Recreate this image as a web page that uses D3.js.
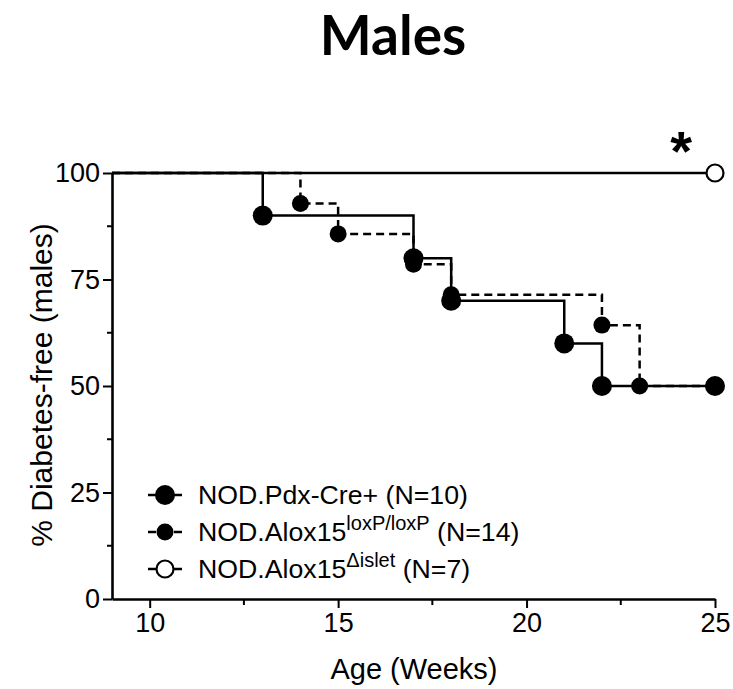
<!DOCTYPE html>
<html>
<head>
<meta charset="utf-8">
<script src="https://cdn.jsdelivr.net/npm/d3@7"></script>
<style>
  body { margin: 0; background: #fff; }
</style>
</head>
<body>
<div id="chart"></div>
<script>
// ages (weeks) and % diabetes-free
const pdxWeeks   = [9, 13, 17, 18, 21, 22, 25];
const pdxValues  = [100, 90, 80, 70, 60, 50, 50];
const loxWeeks   = [9, 14, 15, 17, 18, 22, 23, 25];
const loxValues  = [100, 92.86, 85.71, 78.57, 71.43, 64.29, 50, 50];
const isletWeeks = [9, 25];
const isletValues = [100, 100];

const xTicks = [10, 15, 20, 25];
const xMinor = [12.5, 17.5, 22.5];
const yTicks = [0, 25, 50, 75, 100];
const yMinor = [12.5, 37.5, 62.5, 87.5];

const legendLabels = [
  {main: "NOD.Pdx-Cre+", sup: "", tail: " (N=10)"},
  {main: "NOD.Alox15", sup: "loxP/loxP", tail: " (N=14)"},
  {main: "NOD.Alox15", sup: "\u0394islet", tail: " (N=7)"}
];

const FONT = "'Liberation Sans', Arimo, Arial, sans-serif";

let width = 733, height = 689;
let margin = {top: 173, left: 112, right: 18, bottom: 90};
let plotW = width - margin.left - margin.right,
    plotH = height - margin.top - margin.bottom;

let svg = d3.select("#chart").append("svg")
  .attr("width", width)
  .attr("height", height);

let xScale = d3.scaleLinear().domain([9, 25]).range([margin.left, margin.left + plotW]);
let yScale = d3.scaleLinear().domain([0, 100]).range([margin.top + plotH, margin.top]);

// title
svg.append("text")
  .attr("x", 393).attr("y", 55)
  .attr("text-anchor", "middle")
  .style("font-family", "Lato, 'Open Sans', sans-serif")
  .style("font-weight", "bold")
  .style("font-size", "55px")
  .text("Males");

// axes
let xAxis = d3.axisBottom(xScale).tickValues(xTicks).tickSize(9).tickPadding(5).tickSizeOuter(0);
let yAxis = d3.axisLeft(yScale).tickValues(yTicks).tickSize(9).tickPadding(3).tickSizeOuter(0);

let gx = svg.append("g").attr("transform", "translate(0," + yScale(0) + ")").call(xAxis);
let gy = svg.append("g").attr("transform", "translate(" + xScale(9) + ",0)").call(yAxis);

[gx, gy].forEach(function(g) {
  g.attr("font-family", null).attr("font-size", null);
  g.select(".domain").attr("stroke", "#000").attr("stroke-width", 2.6);
  g.selectAll(".tick line").attr("stroke", "#000").attr("stroke-width", 2);
  g.selectAll(".tick text")
    .style("font-family", FONT)
    .style("font-size", "27px").attr("fill", "#000");
});

// minor ticks
gx.selectAll(".minor").data(xMinor).enter().append("line")
  .attr("x1", d => xScale(d)).attr("x2", d => xScale(d))
  .attr("y1", 0).attr("y2", 6)
  .attr("stroke", "#000").attr("stroke-width", 2);
gy.selectAll(".minor").data(yMinor).enter().append("line")
  .attr("y1", d => yScale(d)).attr("y2", d => yScale(d))
  .attr("x1", 0).attr("x2", -5)
  .attr("stroke", "#000").attr("stroke-width", 2);

// axis labels
svg.append("text")
  .attr("x", 414).attr("y", 679)
  .attr("text-anchor", "middle")
  .style("font-family", FONT)
  .style("font-size", "29px")
  .text("Age (Weeks)");

svg.append("text")
  .attr("transform", "translate(52," + 385 + ") rotate(-90)")
  .attr("text-anchor", "middle")
  .style("font-family", FONT)
  .style("font-size", "30px")
  .text("% Diabetes-free (males)");

// step lines
let line = d3.line()
  .x(d => xScale(d[0]))
  .y(d => yScale(d[1]))
  .curve(d3.curveStepAfter);

let islet = d3.zip(isletWeeks, isletValues),
    lox = d3.zip(loxWeeks, loxValues),
    pdx = d3.zip(pdxWeeks, pdxValues);

svg.append("path").datum(islet).attr("d", line)
  .attr("fill", "none").attr("stroke", "#000").attr("stroke-width", 2.5);

svg.append("path").datum(lox).attr("d", line)
  .attr("fill", "none").attr("stroke", "#000").attr("stroke-width", 2.5)
  .style("stroke-dasharray", "8, 5");

svg.append("path").datum(pdx).attr("d", line)
  .attr("fill", "none").attr("stroke", "#000").attr("stroke-width", 2.5);

// markers (skip the starting point at the axis)
svg.selectAll(".lox-dot").data(lox.slice(1, -1)).enter().append("circle")
  .attr("cx", d => xScale(d[0])).attr("cy", d => yScale(d[1]))
  .attr("r", 8.5).attr("fill", "#000");

svg.selectAll(".pdx-dot").data(pdx.slice(1)).enter().append("circle")
  .attr("cx", d => xScale(d[0])).attr("cy", d => yScale(d[1]))
  .attr("r", 10).attr("fill", "#000");

svg.selectAll(".islet-dot").data(islet.slice(1)).enter().append("circle")
  .attr("cx", d => xScale(d[0])).attr("cy", d => yScale(d[1]))
  .attr("r", 8.5).attr("fill", "#fff").attr("stroke", "#000").attr("stroke-width", 2.2);

// significance asterisk
svg.append("text")
  .attr("x", xScale(24.1)).attr("y", 170)
  .attr("text-anchor", "middle")
  .style("font-family", FONT)
  .style("font-weight", "bold")
  .style("font-size", "56px")
  .text("*");

// legend
let legendY = [495, 532, 569];
let legend = svg.selectAll(".legend").data(legendLabels).enter().append("g")
  .attr("transform", (d, i) => "translate(148," + legendY[i] + ")");

legend.append("line")
  .attr("x1", 0).attr("x2", 34).attr("y1", 0).attr("y2", 0)
  .attr("stroke", "#000").attr("stroke-width", 2.5)
  .style("stroke-dasharray", (d, i) => i == 1 ? "8, 5" : null);

legend.append("circle")
  .attr("cx", 17).attr("cy", 0)
  .attr("r", (d, i) => i == 0 ? 10 : 8.5)
  .attr("fill", (d, i) => i == 2 ? "#fff" : "#000")
  .attr("stroke", "#000")
  .attr("stroke-width", (d, i) => i == 2 ? 2.2 : 0);

let lt = legend.append("text")
  .attr("x", 50).attr("y", 9)
  .style("font-family", FONT)
  .style("font-size", "26.7px");
lt.append("tspan").text(d => d.main);
lt.append("tspan").attr("dy", -11).style("font-size", "20px").text(d => d.sup);
lt.append("tspan").attr("dy", d => d.sup ? 11 : 0).text(d => d.tail);
</script>
</body>
</html>
